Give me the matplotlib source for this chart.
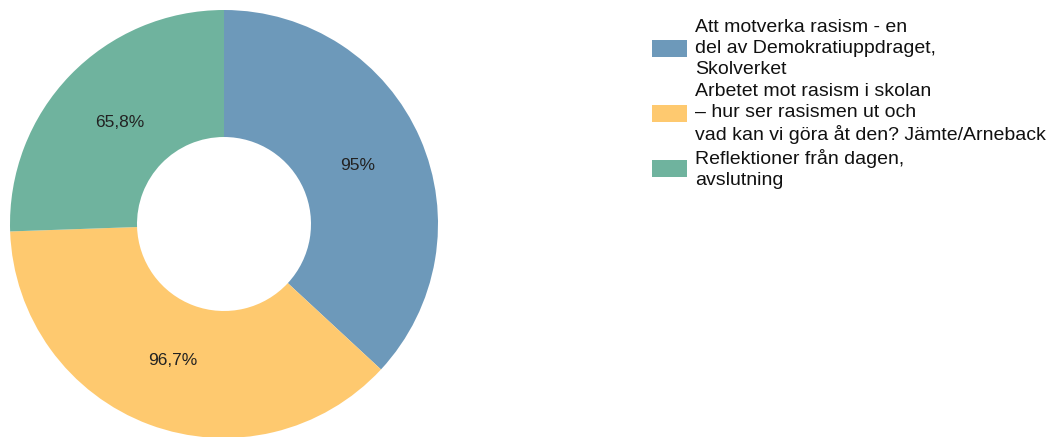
import matplotlib
matplotlib.use("Agg")
import numpy as np
import matplotlib.pyplot as plt
from matplotlib.patches import Patch

plt.rcParams['font.family'] = ['Liberation Sans', 'DejaVu Sans']

# data
labels = [
    "Att motverka rasism - en\ndel av Demokratiuppdraget,\nSkolverket",
    "Arbetet mot rasism i skolan\n– hur ser rasismen ut och\nvad kan vi göra åt den? Jämte/Arneback",
    "Reflektioner från dagen,\navslutning",
]
values = [95, 96.7, 65.8]
value_texts = ["95%", "96,7%", "65,8%"]
colors = ["#6d99ba", "#fec96f", "#6fb39e"]

W, H = 1061, 437
fig = plt.figure(figsize=(W / 100, H / 100), dpi=100)

# pie axes placed in pixel terms: center (224, 224 from top), radius 214
cx, cy, r = 224, 224, 214
ax = fig.add_axes([(cx - r) / W, (H - cy - r) / H, 2 * r / W, 2 * r / H])
wedges, _ = ax.pie(values, colors=colors, startangle=90, counterclock=False,
                   radius=1.0, wedgeprops=dict(width=1 - 87 / 214, linewidth=0))
ax.set_xlim(-1, 1)
ax.set_ylim(-1, 1)
ax.set_aspect('equal')
ax.axis('off')

# value labels at middle of ring
total = sum(values)
start = 90
rl = 0.68
for v, t in zip(values, value_texts):
    mid = start - v / total * 360 / 2
    ang = np.deg2rad(mid)
    ax.text(rl * np.cos(ang), rl * np.sin(ang), t, ha='center', va='center',
            fontsize=12.5, color='#222222')
    start -= v / total * 360

handles = [Patch(facecolor=c, edgecolor='none') for c in colors]
leg = fig.legend(handles, labels, loc='upper left', bbox_to_anchor=(652 / W, 1 - 19 / H),
                 frameon=False, fontsize=14, handlelength=1.8, handleheight=0.95,
                 handletextpad=0.42, labelspacing=0.25, borderaxespad=0, borderpad=0)
for t in leg.get_texts():
    t.set_linespacing(1.3)
    t.set_color('#111111')

fig.savefig("out.png", dpi=100)
